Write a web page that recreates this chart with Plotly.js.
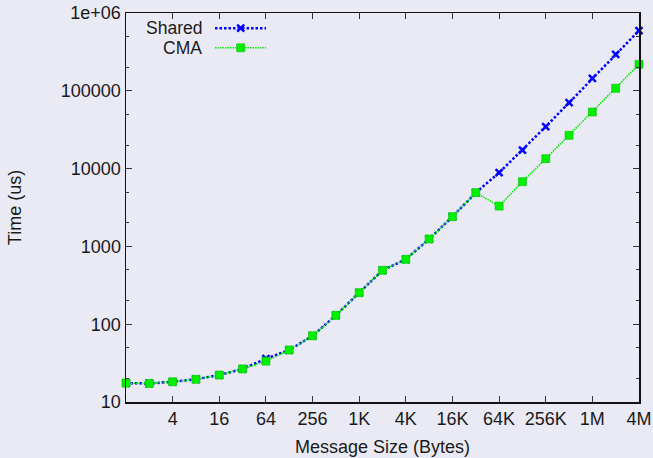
<!DOCTYPE html>
<html>
<head>
<meta charset="utf-8">
<script src="https://cdn.plot.ly/plotly-3.0.1.min.js"></script>
<style>html,body{margin:0;padding:0;background:#eaeaf5;}#chart{width:653px;height:458px;}</style>
</head>
<body>
<div id="chart"></div>
<script>
// Message sizes in bytes (2^0 .. 2^22)
const sizes = [1,2,4,8,16,32,64,128,256,512,1024,2048,4096,8192,16384,32768,65536,131072,262144,524288,1048576,2097152,4194304];
const sharedTimes = [17.5,17.3,18.2,19.6,22.2,26.6,36,46.6,71,130,254,493,682,1245,2410,4900,8860,17300,34600,70300,144600,294000,593000];
const cmaTimes    = [17.5,17.3,18.2,19.6,22.2,26.6,33.5,46.6,71,130,254,493,682,1245,2410,4900,3300,6790,13400,26800,53400,107700,219000];
const tickVals = [4,16,64,256,1024,4096,16384,65536,262144,1048576,4194304];
const tickText = ["4","16","64","256","1K","4K","16K","64K","256K","1M","4M"];
const seriesNames = ["Shared","CMA"];

const font = {family:"Liberation Sans, Arial, sans-serif", size:18, color:"#1a1a1a"};
const legFont = {family:"Liberation Sans, Arial, sans-serif", size:17.5, color:"#1a1a1a"};
const legX0 = 0.1735, legX1 = 0.2729, legXm = 0.2236, legY = [0.961, 0.9106];

const blueLine = {color:"#0000ff", width:2.5, dash:"2.5px,2px"};
const blueMarker = {symbol:"x-thin", size:7, line:{color:"#0000ff", width:2.5}, color:"#0000ff"};
const greenLine = {color:"#00ee00", width:1.6, dash:"1.5px,1px"};
const greenMarker = {symbol:"square", size:8, color:"#00f000", line:{color:"#00c000", width:0.6}};

const traces = [
  {x:sizes, y:sharedTimes, name:seriesNames[0], mode:"lines+markers", cliponaxis:false, line:blueLine, marker:blueMarker},
  {x:sizes, y:cmaTimes, name:seriesNames[1], mode:"lines+markers", cliponaxis:false, line:greenLine, marker:greenMarker},
  // legend samples
  {x:[legX0,legX1], y:[legY[0],legY[0]], xaxis:"x2", yaxis:"y2", mode:"lines", line:blueLine, hoverinfo:"skip"},
  {x:[legXm], y:[legY[0]], xaxis:"x2", yaxis:"y2", mode:"markers", marker:blueMarker, hoverinfo:"skip"},
  {x:[legX0,legX1], y:[legY[1],legY[1]], xaxis:"x2", yaxis:"y2", mode:"lines", line:greenLine, hoverinfo:"skip"},
  {x:[legXm], y:[legY[1]], xaxis:"x2", yaxis:"y2", mode:"markers", marker:greenMarker, hoverinfo:"skip"}
];

const layout = {
  width:653, height:458,
  margin:{l:126, r:14, t:13, b:56},
  paper_bgcolor:"#eaeaf5", plot_bgcolor:"#eaeaf5",
  showlegend:false,
  font:font,
  xaxis:{type:"log", range:[0, Math.log10(4194304)], tickvals:tickVals, ticktext:tickText,
    ticks:"inside", ticklen:6, tickcolor:"#333", showline:true, linecolor:"#111", linewidth:1.5,
    mirror:"ticks", showgrid:false, zeroline:false, tickfont:font,
    title:{text:"Message Size (Bytes)", font:font, standoff:12}},
  yaxis:{type:"log", range:[1,6], tickvals:[10,100,1000,10000,100000,1000000],
    ticktext:["10","100","1000","10000","100000","1e+06"],
    ticks:"inside", ticklen:6, tickcolor:"#333", showline:true, linecolor:"#111", linewidth:1.5,
    mirror:"ticks", showgrid:false, zeroline:false, tickfont:font,
    minor:{tickvals:[20,50,200,500,2000,5000,20000,50000,200000,500000], ticks:"inside", ticklen:3, tickcolor:"#333", showgrid:false},
    title:{text:"Time (us)", font:font, standoff:34}},
  xaxis2:{overlaying:"x", range:[0,1], visible:false, fixedrange:true},
  yaxis2:{overlaying:"y", range:[0,1], visible:false, fixedrange:true},
  annotations:[
    {xref:"paper", yref:"paper", x:0.150, y:legY[0], xanchor:"right", yanchor:"middle", text:seriesNames[0], showarrow:false, font:legFont, borderpad:0},
    {xref:"paper", yref:"paper", x:0.150, y:legY[1], xanchor:"right", yanchor:"middle", text:seriesNames[1], showarrow:false, font:legFont, borderpad:0}
  ]
};
Plotly.newPlot("chart", traces, layout, {displayModeBar:false, staticPlot:true});
</script>
</body>
</html>
